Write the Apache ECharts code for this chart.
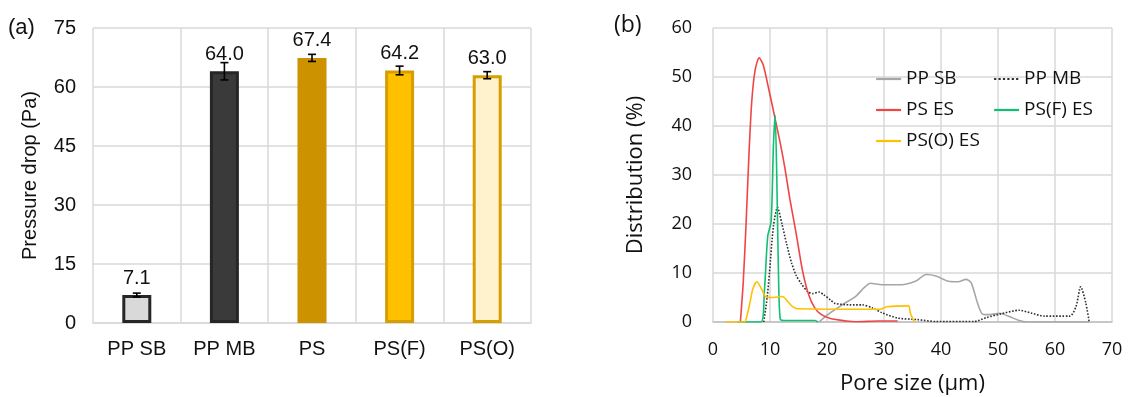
<!DOCTYPE html>
<html>
<head>
<meta charset="utf-8">
<script src="https://cdn.jsdelivr.net/npm/echarts@6/dist/echarts.min.js"></script>
<style>
  html, body { margin: 0; padding: 0; background: #fff; }
  #chart { width: 1148px; height: 397px; }
</style>
</head>
<body>
<div id="chart"></div>
<script>
// (a) pressure drop
var categories = ['PP SB', 'PP MB', 'PS', 'PS(F)', 'PS(O)'];
var pressureDrop = [7.1, 64.0, 67.4, 64.2, 63.0];
var pressureErr = [0.5, 2.2, 0.9, 1.1, 0.9];

// (b) pore size distribution, [pore size (um), distribution (%)]
var ppSb = [[18.6,0],[20.6,1.9],[22.8,3.6],[25.1,5.3],[26.5,7.0],[27.6,7.9],[29.6,7.6],[33,7.6],[35.5,8.3],[37.4,9.7],[39.1,9.4],[41.3,8.3],[43,8.2],[44.4,8.7],[45.3,8.0],[46.4,3.9],[47.3,1.6],[48.6,1.5],[50.3,1.8],[52,1.1],[53.7,0.3],[55,0],[66,0]];
var ppMb = [[8.9,0],[9.5,5],[9.9,10],[10.6,19.5],[11.3,23.4],[12.1,20],[12.9,16],[13.8,12],[14.6,9.5],[15.5,7.8],[16.6,6.2],[17.5,5.8],[18.6,6.1],[19.4,5.6],[20.6,4.5],[21.4,3.8],[24,3.5],[26.2,3.5],[27.9,2.9],[29.6,1.9],[32.4,0.8],[35.8,0.5],[39.1,0.1],[45.8,0.1],[48,0.9],[50.3,1.6],[53.7,2.4],[55.9,1.8],[58.1,1.2],[62.6,1.2],[63.7,3.2],[64.5,7.2],[65.4,3.9],[66,0]];
var psEs = [[4.8,0],[5.3,8],[5.8,20],[6.3,34],[6.8,45],[7.4,51.5],[8.1,53.9],[8.8,52.5],[9.6,48.5],[10.8,42],[11.8,36.5],[12.6,31.5],[13.5,25],[14.6,18],[15.7,10.5],[16.8,5.5],[17.8,3],[18.9,1.6],[20.6,0.7],[23.4,0.2],[25.1,0.05],[29,0.2],[32.4,0.2]];
var psfEs = [[4.3,0],[8.4,0],[9.0,6],[9.6,17.5],[10.2,20.5],[10.6,36],[10.9,42.2],[11.2,29],[11.5,9],[11.8,0.6],[12.5,0.3],[17.9,0.3],[18.4,0]];
var psoEs = [[2.2,0],[5.5,0],[6.0,1.5],[6.5,4],[7.0,6.8],[7.7,8.2],[8.4,7.0],[9.3,5.1],[10.2,5.0],[12.2,5.2],[13.1,4.2],[13.8,3.3],[14.8,2.7],[29.3,2.6],[30.5,3.1],[34.3,3.3],[34.6,1.9],[35.3,0]];

var barFill = ['#d9d9d9', '#3a3a3a', '#cc9200', '#ffc000', '#fff2cc'];
var barBorder = ['#262626', '#262626', '#cc9200', '#d69e00', '#d69e00'];

var chart = echarts.init(document.getElementById('chart'));

var fontA = 'Liberation Sans, Arial, sans-serif';
var fontB = 'Open Sans, sans-serif';
var gridColor = '#d9d9d9';

var barData = pressureDrop.map(function (v, i) {
    return {
        value: v,
        itemStyle: { color: barFill[i], borderColor: barBorder[i], borderWidth: 3 }
    };
});
var errData = pressureDrop.map(function (v, i) {
    return [i, v - pressureErr[i], v + pressureErr[i]];
});

function lineSeries(name, data, color, type) {
    return {
        name: name,
        type: 'line',
        xAxisIndex: 1,
        yAxisIndex: 1,
        data: data,
        smooth: 0.25,
        showSymbol: false,
        symbol: 'none',
        lineStyle: { color: color, width: 1.6, type: type || 'solid' },
        itemStyle: { color: color }
    };
}

// legend: line sample only, no marker
var legendBase = {
    orient: 'vertical', top: 68, padding: 0, itemGap: 9,
    itemWidth: 25, itemHeight: 14,
    itemStyle: { opacity: 0, borderWidth: 0 },
    lineStyle: { width: 2.2 },
    textStyle: { fontFamily: fontB, fontSize: 19, color: '#111', lineHeight: 22 }
};

var option = {
    animation: false,
    backgroundColor: '#fff',
    graphic: [
        { type: 'text', left: 8, top: 17, style: { text: '(a)', font: '22px ' + fontA, fill: '#111' } },
        { type: 'text', left: 614, top: 14, style: { text: '(b)', font: '23px ' + fontB, fill: '#111' } }
    ],
    legend: [
        Object.assign({}, legendBase, { left: 875, data: ['PP SB', 'PS ES', 'PS(O) ES'] }),
        Object.assign({}, legendBase, { left: 993, data: ['PP MB', 'PS(F) ES'] })
    ],
    grid: [
        { left: 93, top: 28, width: 438, height: 295, outerBoundsMode: 'none' },
        { left: 713, top: 28, width: 399, height: 294, outerBoundsMode: 'none' }
    ],
    xAxis: [
        {
            type: 'category',
            gridIndex: 0,
            data: categories,
            axisLine: { lineStyle: { color: gridColor, width: 1.5 } },
            axisTick: { show: false },
            axisLabel: { fontFamily: fontA, fontSize: 20, color: '#111', margin: 16 },
            splitLine: { show: true, interval: 0, lineStyle: { color: gridColor, width: 1.5 } }
        },
        {
            type: 'value',
            gridIndex: 1,
            min: 0, max: 70, interval: 10,
            name: 'Pore size (μm)',
            nameLocation: 'middle',
            nameGap: 51,
            nameTextStyle: { fontFamily: fontB, fontSize: 22, color: '#111' },
            axisLine: { lineStyle: { color: '#bfbfbf', width: 1.5 } },
            axisTick: { show: false },
            axisLabel: { fontFamily: fontB, fontSize: 18, color: '#111', margin: 19 },
            splitLine: { show: true, lineStyle: { color: gridColor, width: 1.5 } }
        }
    ],
    yAxis: [
        {
            type: 'value',
            gridIndex: 0,
            min: 0, max: 75, interval: 15,
            name: 'Pressure drop (Pa)',
            nameLocation: 'middle',
            nameGap: 53,
            nameTextStyle: { fontFamily: fontA, fontSize: 20, color: '#111' },
            axisLine: { show: false },
            axisTick: { show: false },
            axisLabel: { fontFamily: fontA, fontSize: 20, color: '#111', margin: 17 },
            splitLine: { lineStyle: { color: gridColor, width: 1.5 } }
        },
        {
            type: 'value',
            gridIndex: 1,
            min: 0, max: 60, interval: 10,
            name: 'Distribution (%)',
            nameLocation: 'middle',
            nameGap: 66,
            nameTextStyle: { fontFamily: fontB, fontSize: 22, color: '#111' },
            axisLine: { show: false },
            axisTick: { show: false },
            axisLabel: { fontFamily: fontB, fontSize: 18, color: '#111', margin: 21 },
            splitLine: { lineStyle: { color: gridColor, width: 1.5 } }
        }
    ],
    series: [
        {
            name: 'Pressure drop',
            type: 'bar',
            xAxisIndex: 0,
            yAxisIndex: 0,
            barWidth: 29,
            data: barData,
            label: {
                show: true,
                position: 'top',
                distance: 7,
                fontFamily: fontA,
                fontSize: 20,
                color: '#111',
                formatter: function (p) { return p.value.toFixed(1); }
            }
        },
        {
            name: 'err',
            type: 'custom',
            xAxisIndex: 0,
            yAxisIndex: 0,
            z: 5,
            data: errData,
            renderItem: function (params, api) {
                var idx = api.value(0);
                var lo = api.coord([idx, api.value(1)]);
                var hi = api.coord([idx, api.value(2)]);
                var w = 4;
                var st = { stroke: '#000', lineWidth: 1.6 };
                return {
                    type: 'group',
                    children: [
                        { type: 'line', shape: { x1: hi[0], y1: hi[1], x2: lo[0], y2: lo[1] }, style: st },
                        { type: 'line', shape: { x1: hi[0] - w, y1: hi[1], x2: hi[0] + w, y2: hi[1] }, style: st },
                        { type: 'line', shape: { x1: lo[0] - w, y1: lo[1], x2: lo[0] + w, y2: lo[1] }, style: st }
                    ]
                };
            }
        },
        lineSeries('PP SB', ppSb, '#a6a6a6'),
        lineSeries('PP MB', ppMb, '#303030', 'dotted'),
        lineSeries('PS ES', psEs, '#f04545'),
        lineSeries('PS(F) ES', psfEs, '#10bf72'),
        lineSeries('PS(O) ES', psoEs, '#ffc000')
    ]
};

chart.setOption(option);
</script>
</body>
</html>
